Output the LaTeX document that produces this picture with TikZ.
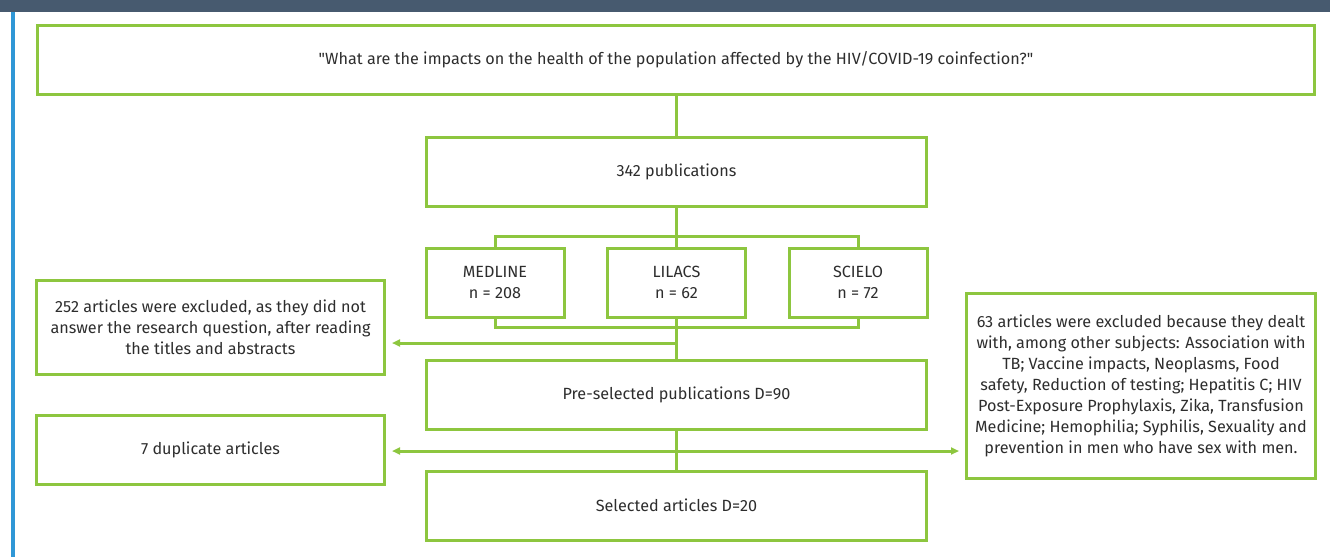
\documentclass[tikz,border=0pt]{standalone}
\usepackage{fontspec}
\setmainfont{Fira Sans}
\usetikzlibrary{arrows.meta}
\definecolor{flowgreen}{RGB}{141,198,63}
\definecolor{flowtext}{RGB}{45,45,45}
\definecolor{headbar}{RGB}{71,90,111}
\definecolor{sidebar}{RGB}{47,151,214}

\begin{document}
\begin{tikzpicture}[x=1pt, y=-1pt, >={Triangle[length=8pt,width=7pt]}, line width=3pt, font=\fontsize{16.2}{21}\selectfont, text=flowtext]
\tikzset{
  flowbox/.style={draw=flowgreen, align=center, inner sep=0pt, minimum height=69pt},
  widebox/.style={flowbox, minimum width=500pt},
  dbbox/.style={flowbox, minimum width=138pt},
  sidebox/.style={flowbox, minimum width=348pt},
  flowline/.style={draw=flowgreen}
}
\useasboundingbox (0,0) rectangle (1330,557);
\fill[headbar] (0,0) rectangle (1330,12);
\fill[sidebar] (11,12) rectangle (15,557);

\node[flowbox, minimum width=1277pt] (question) at (676,59.5) {\textquotedbl What are the impacts on the health of the population affected by the HIV/COVID-19 coinfection?\textquotedbl};
\node[widebox] (pubs) at (676.5,172) {342 publications};

\node[dbbox] (medline) at (495,282.5) {MEDLINE\\n = 208};
\node[dbbox] (lilacs) at (676.5,282.5) {LILACS\\n = 62};
\node[dbbox] (scielo) at (858,282.5) {SCIELO\\n = 72};

\node[sidebox, minimum height=94pt] (excltitle) at (210.5,327.5) {252 articles were excluded, as they did not\\answer the research question, after reading\\the titles and abstracts};
\node[widebox] (presel) at (676.5,394.5) {Pre-selected publications D=90};
\node[sidebox] (dupl) at (210.5,450) {7 duplicate articles};
\node[flowbox, minimum width=349pt, minimum height=185pt] (exclsubj) at (1141,386) {63 articles were excluded because they dealt\\with, among other subjects: Association with\\TB; Vaccine impacts, Neoplasms, Food\\safety, Reduction of testing; Hepatitis C; HIV\\Post-Exposure Prophylaxis, Zika, Transfusion\\Medicine; Hemophilia; Syphilis, Sexuality and\\prevention in men who have sex with men.};
\node[widebox] (selected) at (676.5,505.5) {Selected articles D=20};

% question to databases
\draw[flowline] (pubs.north) -- (pubs.north |- question.south);
\draw[flowline] (pubs.south) -- (pubs.south |- 0,237);
\draw[flowline] (medline.north) -- ++(0,-10) -| (scielo.north);
\draw[flowline] (lilacs.north) -- ++(0,-10);
\draw[flowline] (medline.south) -- ++(0,9) -| (scielo.south);
\draw[flowline] (lilacs.south) -- (presel.north);

% exclusions
\draw[flowline, ->, shorten >=6pt] (lilacs.south |- 0,343) -- (excltitle.east |- 0,343);
\draw[flowline] (presel) -- (selected);
\draw[flowline, <->, shorten <=6pt, shorten >=6pt] (dupl.east |- 0,451) -- (exclsubj.west |- 0,451);
\end{tikzpicture}
\end{document}
